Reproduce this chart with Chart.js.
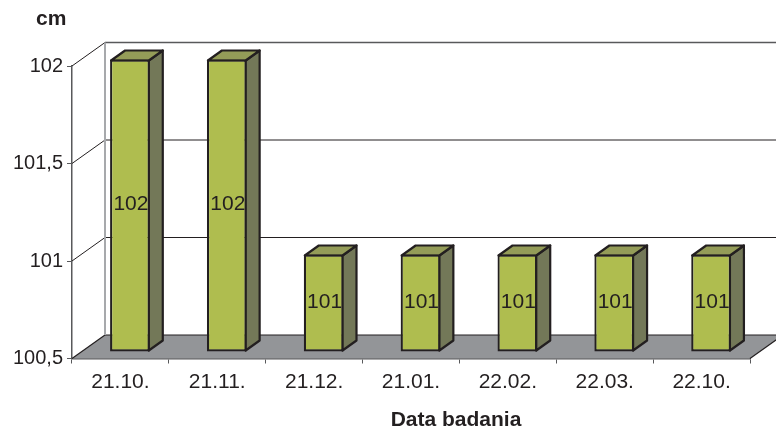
<!DOCTYPE html>
<html>
<head>
<meta charset="utf-8">
<style>
  html, body { margin: 0; padding: 0; background: #fff; }
  #wrap { position: relative; width: 776px; height: 432px; }
</style>
<script src="https://cdn.jsdelivr.net/npm/chart.js@4"></script>
</head>
<body>
<div id="wrap"><canvas id="c" width="776" height="432"></canvas></div>
<script>
const categories = ['21.10.', '21.11.', '21.12.', '21.01.', '22.02.', '22.03.', '22.10.'];
const heightCm = [102, 102, 101, 101, 101, 101, 101];
const yTicks = [100.5, 101, 101.5, 102];
const unitLabel = 'cm';
const xAxisLabel = 'Data badania';

const FONT = '"Liberation Sans", Arial, sans-serif';
const INK = '#231f20';
const WALL = { dx: 33, dy: -23.5 };     // depth of the plot box
const SHIFT = { dx: 9.5, dy: -6.5 };    // bars stand inside the floor
const BAR = { dx: 14, dy: -10 };        // depth of each bar

function poly(ctx, pts, fill, stroke, lw) {
  ctx.beginPath();
  pts.forEach((p, i) => i ? ctx.lineTo(p[0], p[1]) : ctx.moveTo(p[0], p[1]));
  ctx.closePath();
  if (fill) { ctx.fillStyle = fill; ctx.fill(); }
  if (stroke) { ctx.strokeStyle = stroke; ctx.lineWidth = lw; ctx.lineJoin = 'round'; ctx.stroke(); }
}

function seg(ctx, x1, y1, x2, y2, color, lw) {
  ctx.beginPath();
  ctx.moveTo(x1, y1);
  ctx.lineTo(x2, y2);
  ctx.strokeStyle = color;
  ctx.lineWidth = lw;
  ctx.stroke();
}

const pseudo3d = {
  id: 'pseudo3d',
  beforeDatasetsDraw(chart) {
    const { ctx, scales: { y }, chartArea: a } = chart;
    const meta = chart.getDatasetMeta(0);
    const bottom = y.getPixelForValue(yTicks[0]);
    ctx.save();

    // floor
    poly(ctx, [[a.left, bottom], [a.right, bottom],
               [a.right + WALL.dx, bottom + WALL.dy], [a.left + WALL.dx, bottom + WALL.dy]], '#939598');
    seg(ctx, a.left, bottom, a.left + WALL.dx, bottom + WALL.dy, INK, 1.2);
    seg(ctx, a.right, bottom, a.right + WALL.dx, bottom + WALL.dy, INK, 1.2);

    // back wall gridlines and their returns along the side wall
    yTicks.forEach((v, i) => {
      const py = y.getPixelForValue(v);
      const top = i === yTicks.length - 1;
      if (i > 0) seg(ctx, a.left, py, a.left + WALL.dx, py + WALL.dy, INK, 1);
      seg(ctx, a.left + WALL.dx, py + WALL.dy, a.right + WALL.dx, py + WALL.dy,
          top ? '#58595b' : INK, top ? 1.6 : 1);
    });
    seg(ctx, a.left + WALL.dx, y.getPixelForValue(yTicks[yTicks.length - 1]) + WALL.dy,
        a.left + WALL.dx, bottom + WALL.dy, '#a7a9ac', 2);

    // bar top and side faces
    meta.data.forEach(el => {
      const l = el.x - el.width / 2 + SHIFT.dx + 1, r = el.x + el.width / 2 + SHIFT.dx - 1;
      const t = el.y + SHIFT.dy + 1, b = el.base + SHIFT.dy - 1;
      poly(ctx, [[r, t], [r + BAR.dx, t + BAR.dy], [r + BAR.dx, b + BAR.dy], [r, b]], '#737858', INK, 2.2);
      poly(ctx, [[l, t], [l + BAR.dx, t + BAR.dy], [r + BAR.dx, t + BAR.dy], [r, t]], '#949c58', INK, 2.2);
    });
    ctx.restore();

    // the library's own bars are drawn shifted into the box
    ctx.save();
    ctx.translate(SHIFT.dx, SHIFT.dy);
  },
  afterDatasetsDraw(chart) {
    const { ctx } = chart;
    ctx.restore();
    const meta = chart.getDatasetMeta(0);
    ctx.save();
    ctx.font = '21px ' + FONT;
    ctx.fillStyle = INK;
    ctx.textAlign = 'center';
    ctx.textBaseline = 'middle';
    meta.data.forEach((el, i) => {
      ctx.fillText(String(heightCm[i]), el.x + SHIFT.dx + 1, (el.y + el.base) / 2 + SHIFT.dy - 1);
    });

    // unit caption and category axis caption
    ctx.font = 'bold 21px ' + FONT;
    ctx.fillText(xAxisLabel, 456, 420);
    ctx.textAlign = 'left';
    ctx.fillText(unitLabel, 36, 19);
    ctx.restore();
  }
};

new Chart(document.getElementById('c'), {
  type: 'bar',
  data: {
    labels: categories,
    datasets: [{
      label: unitLabel,
      data: heightCm,
      base: yTicks[0],
      backgroundColor: '#afbd4f',
      borderColor: INK,
      borderWidth: 2.2,
      borderSkipped: false,
      barPercentage: 0.41,
      categoryPercentage: 1,
      clip: false
    }]
  },
  options: {
    responsive: false,
    animation: false,
    layout: { padding: { top: 66, right: 26, left: 0, bottom: 0 } },
    plugins: { legend: { display: false }, tooltip: { enabled: false } },
    scales: {
      x: {
        afterFit(s) { s.height = 73.5; },
        border: { color: '#58595b', width: 1.5 },
        grid: { drawOnChartArea: false, color: '#58595b', tickLength: 5 },
        ticks: { color: INK, font: { family: FONT, size: 21 }, padding: 6, maxRotation: 0 },
        title: { display: false }
      },
      y: {
        min: yTicks[0],
        max: yTicks[yTicks.length - 1],
        afterFit(s) { s.width = 72; },
        afterBuildTicks(s) { s.ticks = yTicks.map(value => ({ value })); },
        border: { color: '#58595b', width: 1.5 },
        grid: { drawOnChartArea: false, color: '#58595b', tickLength: 5 },
        ticks: {
          color: INK, font: { family: FONT, size: 20 }, padding: 4,
          callback: v => String(v).replace('.', ',')
        }
      }
    }
  },
  plugins: [pseudo3d]
});
</script>
</body>
</html>
